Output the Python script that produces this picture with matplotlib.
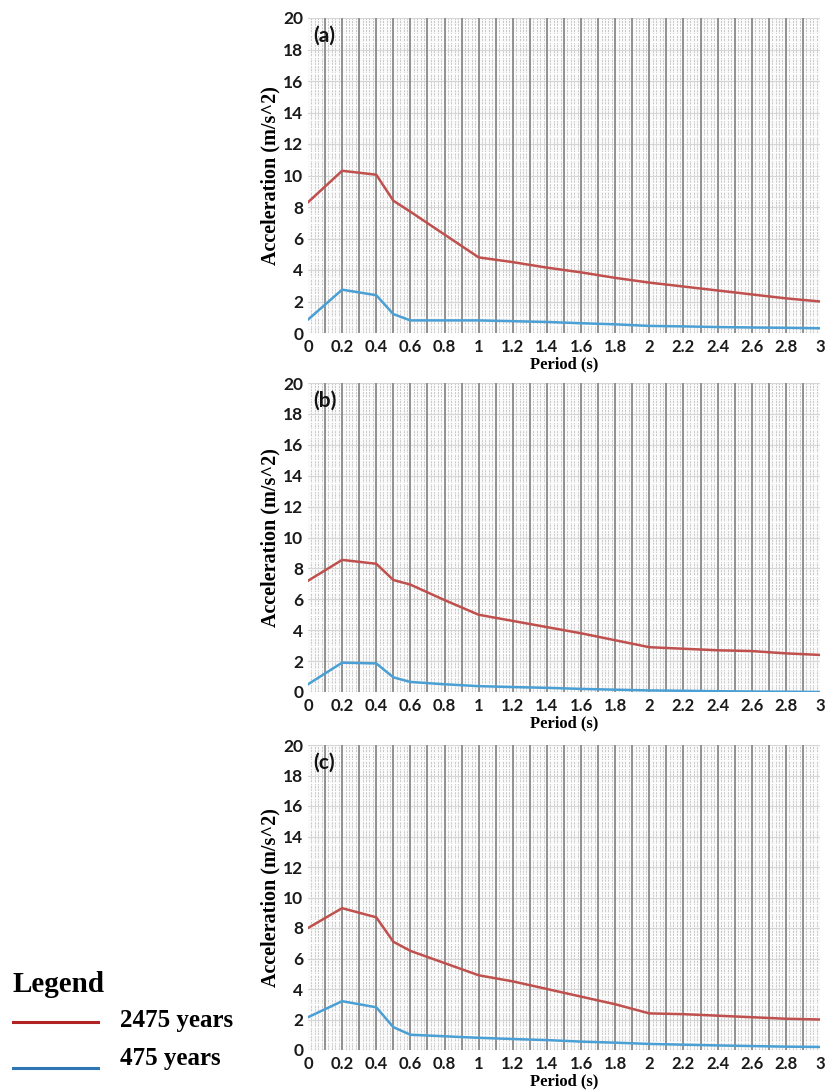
import numpy as np
import matplotlib
matplotlib.use("Agg")
import matplotlib.pyplot as plt
from matplotlib.lines import Line2D

# Spectral acceleration vs. period for two return periods, three sites
period_a = [0, 0.2, 0.4, 0.5, 0.6, 1.0, 1.2, 1.4, 1.6, 1.8, 2.0, 2.2, 2.4, 2.6, 2.8, 3.0]
red_a = [8.3, 10.3, 10.05, 8.4, 7.7, 4.8, 4.5, 4.15, 3.85, 3.5, 3.2, 2.95, 2.7, 2.45, 2.2, 2.0]
blue_a = [0.85, 2.75, 2.4, 1.2, 0.8, 0.8, 0.75, 0.7, 0.62, 0.55, 0.45, 0.42, 0.38, 0.35, 0.33, 0.3]

period_b = [0, 0.2, 0.4, 0.5, 0.6, 0.8, 1.0, 1.2, 1.4, 1.6, 1.8, 2.0, 2.2, 2.4, 2.6, 2.8, 3.0]
red_b = [7.2, 8.55, 8.3, 7.25, 6.95, 5.95, 5.0, 4.6, 4.2, 3.8, 3.35, 2.9, 2.8, 2.7, 2.65, 2.5, 2.4]
blue_b = [0.5, 1.9, 1.85, 0.95, 0.65, 0.5, 0.38, 0.32, 0.27, 0.2, 0.15, 0.1, 0.08, 0.05, 0.03, 0.02, 0.0]

period_c = [0, 0.2, 0.4, 0.5, 0.6, 0.8, 1.0, 1.2, 1.4, 1.6, 1.8, 2.0, 2.2, 2.4, 2.6, 2.8, 3.0]
red_c = [8.0, 9.3, 8.7, 7.1, 6.5, 5.7, 4.9, 4.5, 4.0, 3.5, 3.0, 2.4, 2.35, 2.25, 2.15, 2.05, 2.0]
blue_c = [2.15, 3.2, 2.8, 1.5, 1.0, 0.9, 0.8, 0.72, 0.65, 0.55, 0.48, 0.4, 0.35, 0.3, 0.26, 0.22, 0.2]

x_ticks = [0, 0.2, 0.4, 0.6, 0.8, 1, 1.2, 1.4, 1.6, 1.8, 2, 2.2, 2.4, 2.6, 2.8, 3]
y_ticks = list(range(0, 21, 2))
panel_tags = ["(a)", "(b)", "(c)"]
legend_labels = ["2475 years", "475 years"]

RED = "#c0504d"
BLUE = "#4a9fd4"
SANS = "Lato"
SERIF = "Liberation Serif"

W, H = 828, 1090
fig = plt.figure(figsize=(W / 100, H / 100), dpi=100)


def rect_px(left, right, top, bottom):
    """Axes rectangle from pixel edges (origin at the top-left)."""
    return [left / W, 1 - bottom / H, (right - left) / W, (bottom - top) / H]


rects = [
    rect_px(308, 820, 18, 333),
    rect_px(308, 820, 383, 692),
    rect_px(308, 820, 745, 1050),
]
series = [
    (period_a, red_a, blue_a),
    (period_b, red_b, blue_b),
    (period_c, red_c, blue_c),
]

for rect, (per, red, blue), tag in zip(rects, series, panel_tags):
    ax = fig.add_axes(rect)
    ax.set_xlim(0, 3)
    ax.set_ylim(0, 20)
    ax.set_facecolor("#fafafa")

    # fine vertical hatching every 0.02 s
    for xv in np.arange(0.02, 3.0, 0.02):
        ax.axvline(xv, color="#c8c8c8", lw=0.7, ls=(0, (2.2, 0.9)), zorder=0.5)
    # faint horizontal grid
    for yv in np.arange(0.5, 20, 0.5):
        ax.axhline(yv, color="#ffffff", lw=0.9, zorder=0.6)
    for yv in y_ticks[1:]:
        ax.axhline(yv, color="#d6d6d6", lw=0.8, zorder=0.7)
    # major vertical lines every 0.1 s
    for xv in np.arange(0.1, 3.0, 0.1):
        ax.axvline(xv, color="#8a8a8a", lw=1.3, zorder=0.8)

    ax.plot(per, red, color=RED, lw=1.8, zorder=3)
    ax.plot(per, blue, color=BLUE, lw=1.8, zorder=3)

    ax.set_xticks(x_ticks)
    ax.set_xticklabels([f"{v:g}" for v in x_ticks])
    ax.set_yticks(y_ticks)
    ax.tick_params(axis="x", length=0, pad=4)
    ax.tick_params(axis="y", length=0, pad=3.5)
    for lab in ax.get_xticklabels():
        lab.set_fontfamily(SANS)
        lab.set_fontweight("bold")
        lab.set_fontsize(12)
        lab.set_color("#1a1a1a")
    for lab in ax.get_yticklabels():
        lab.set_fontfamily(SANS)
        lab.set_fontweight("bold")
        lab.set_fontsize(12.5)
        lab.set_color("#1a1a1a")
    for sp in ax.spines.values():
        sp.set_visible(False)

    ax.set_xlabel("Period (s)", fontfamily=SERIF, fontweight="bold", fontsize=12, labelpad=1)
    ax.set_ylabel("Acceleration (m/s^2)", fontfamily=SERIF, fontweight="bold", fontsize=14.5, labelpad=2)
    ax.text(0.01, 0.975, tag, transform=ax.transAxes, ha="left", va="top",
            fontfamily=SANS, fontweight="bold", fontsize=15, color="#111111", zorder=5)

# stand-alone legend at the lower left
fig.text(13 / W, 1 - 985 / H, "Legend", fontfamily=SERIF, fontweight="bold", fontsize=21,
         ha="left", va="center")
fig.add_artist(Line2D([13 / W, 98 / W], [1 - 1022 / H] * 2, transform=fig.transFigure,
                      color="#b22222", lw=2.2))
fig.add_artist(Line2D([13 / W, 98 / W], [1 - 1068 / H] * 2, transform=fig.transFigure,
                      color="#2e75b6", lw=2.2))
fig.text(120 / W, 1 - 1021 / H, legend_labels[0], fontfamily=SERIF, fontweight="bold", fontsize=18,
         ha="left", va="center")
fig.text(120 / W, 1 - 1058 / H, legend_labels[1], fontfamily=SERIF, fontweight="bold", fontsize=18,
         ha="left", va="center")

fig.savefig("out.png", dpi=100, facecolor="white")
